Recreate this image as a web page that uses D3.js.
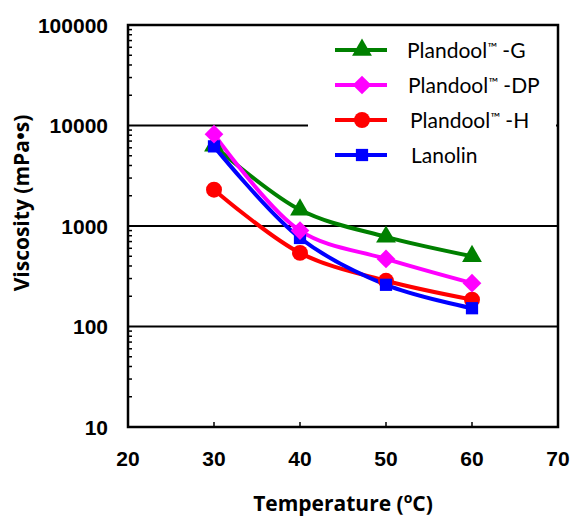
<!DOCTYPE html>
<html><head><meta charset="utf-8">
<script src="https://cdn.jsdelivr.net/npm/d3@7"></script>
<style>body{margin:0;background:#fff}svg{display:block}</style>
</head><body>
<svg id="c" width="572" height="517"></svg>
<script>
const temps = [30, 40, 50, 60];
const seriesNames = ["Plandool\u2122 -G", "Plandool\u2122 -DP", "Plandool\u2122 -H", "Lanolin"];
const gValues = [6300, 1450, 780, 500];
const dpValues = [8200, 900, 470, 270];
const hValues = [2300, 540, 285, 185];
const lanolinValues = [6200, 760, 260, 152];
const xTicks = [20, 30, 40, 50, 60, 70];
const yTicks = [10, 100, 1000, 10000, 100000];

// custom diamond (square rotated 45deg)
const wideDiamond = {draw(ctx, size) { const r = Math.sqrt(size / 2); ctx.moveTo(0, -r); ctx.lineTo(r, 0); ctx.lineTo(0, r); ctx.lineTo(-r, 0); ctx.closePath(); }};

const series = [
  {name: seriesNames[0], values: gValues, color: "#008000", sym: d3.symbolTriangle, size: 170},
  {name: seriesNames[1], values: dpValues, color: "#ff00ff", sym: wideDiamond, size: 175},
  {name: seriesNames[2], values: hValues, color: "#ff0000", sym: d3.symbolCircle, size: 200},
  {name: seriesNames[3], values: lanolinValues, color: "#0000ff", sym: d3.symbolSquare, size: 150}
];

const svg = d3.select("#c");
const L = 128, R = 558, T = 25, B = 427;
const x = d3.scaleLinear().domain([20, 70]).range([L, R]);
const y = d3.scaleLog().domain([10, 100000]).range([B, T]);

// gridlines
svg.append("g").selectAll("line").data([100, 1000, 10000]).join("line")
  .attr("x1", L).attr("x2", R).attr("y1", d => y(d)).attr("y2", d => y(d))
  .attr("stroke", "#000").attr("stroke-width", 2);

// minor y ticks (inward)
const minor = [];
for (let e = 10; e < 100000; e *= 10) for (let k = 2; k <= 9; k++) minor.push(e * k);
svg.append("g").selectAll("line").data(minor).join("line")
  .attr("x1", L).attr("x2", L + 4).attr("y1", d => y(d)).attr("y2", d => y(d))
  .attr("stroke", "#000").attr("stroke-width", 1.5);

// x ticks inward
svg.append("g").selectAll("line").data(xTicks.slice(1, -1)).join("line")
  .attr("x1", d => x(d)).attr("x2", d => x(d)).attr("y1", B).attr("y2", B - 5)
  .attr("stroke", "#000").attr("stroke-width", 1.5);

// legend background
svg.append("rect").attr("x", 308).attr("y", 27).attr("width", 248).attr("height", 168).attr("fill", "#fff");

// frame
svg.append("rect").attr("x", L).attr("y", T).attr("width", R - L).attr("height", B - T)
  .attr("fill", "none").attr("stroke", "#000").attr("stroke-width", 2.5);

// y labels
svg.append("g").selectAll("text").data(yTicks).join("text")
  .attr("x", 108).attr("y", d => y(d)).attr("dy", "0.36em").attr("text-anchor", "end")
  .attr("font-family", "Liberation Sans, Arial, sans-serif").attr("font-weight", "bold").attr("font-size", 21)
  .text(d => d);

// x labels
svg.append("g").selectAll("text").data(xTicks).join("text")
  .attr("x", d => x(d)).attr("y", 466).attr("text-anchor", "middle")
  .attr("font-family", "Liberation Sans, Arial, sans-serif").attr("font-weight", "bold").attr("font-size", 21)
  .text(d => d);

// axis titles
svg.append("text").attr("transform", "translate(29,203) rotate(-90)").attr("text-anchor", "middle")
  .attr("font-family", "Open Sans, DejaVu Sans, sans-serif").attr("font-weight", "bold").attr("font-size", 21)
  .text("Viscosity (mPa\u2022s)");
const xt = svg.append("text").attr("x", 343).attr("y", 511).attr("text-anchor", "middle")
  .attr("font-family", "Open Sans, DejaVu Sans, sans-serif").attr("font-weight", "bold").attr("font-size", 21);
xt.append("tspan").text("Temperature (");
xt.append("tspan").attr("font-size", 14).attr("dy", -8).text("o");
xt.append("tspan").attr("dy", 8).text("C)");

// lines
const line = d3.line().x((d, i) => x(temps[i])).y(d => y(d)).curve(d3.curveCatmullRom.alpha(0.5));
const drawOrder = [0, 2, 3, 1];
drawOrder.forEach(si => {
  const s = series[si];
  svg.append("path").attr("d", line(s.values)).attr("fill", "none")
    .attr("stroke", s.color).attr("stroke-width", 4);
});
drawOrder.forEach(si => {
  const s = series[si];
  svg.append("g").selectAll("path").data(s.values).join("path")
    .attr("transform", (d, i) => `translate(${x(temps[i])},${y(d)})`)
    .attr("d", d3.symbol().type(s.sym).size(s.size)).attr("fill", s.color);
});

// legend
const ly = [50, 85, 120, 155];
const tx = [407, 408, 410, 411];
series.forEach((s, i) => {
  const g = svg.append("g");
  g.append("line").attr("x1", 335).attr("x2", 387).attr("y1", ly[i]).attr("y2", ly[i])
    .attr("stroke", s.color).attr("stroke-width", 4);
  g.append("path").attr("transform", `translate(362,${ly[i]})`)
    .attr("d", d3.symbol().type(s.sym).size(s.size)).attr("fill", s.color);
  const t = g.append("text").attr("x", tx[i]).attr("y", ly[i]).attr("dy", "0.36em")
    .attr("font-family", "Lato, Liberation Sans, sans-serif").attr("font-size", 21);
  const parts = s.name.split("\u2122");
  if (parts.length > 1) {
    t.append("tspan").text(parts[0]);
    t.append("tspan").attr("font-size", 13).attr("dy", -6).text("\u2122");
    t.append("tspan").attr("dy", 6).text(parts[1]);
  } else {
    t.text(s.name);
  }
});
</script>
</body></html>
